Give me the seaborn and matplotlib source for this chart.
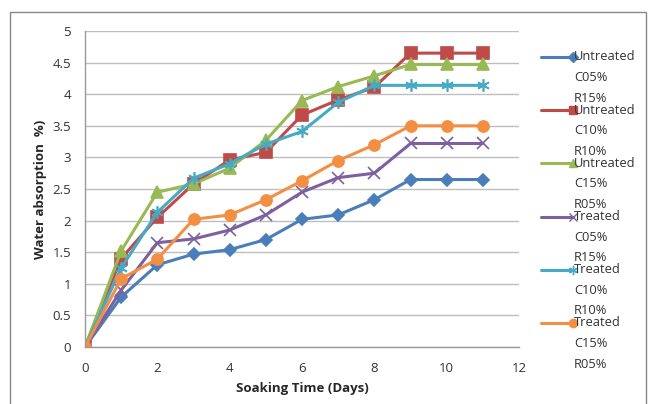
import matplotlib
matplotlib.use("Agg")
import matplotlib.pyplot as plt
import seaborn as sns
import pandas as pd
from matplotlib.lines import Line2D
from matplotlib.patches import Rectangle

days = [0, 1, 2, 3, 4, 5, 6, 7, 8, 9, 10, 11]
untreated_c05_r15 = [0, 0.79, 1.30, 1.47, 1.54, 1.70, 2.02, 2.09, 2.33, 2.65, 2.65, 2.65]
untreated_c10_r10 = [0, 1.40, 2.05, 2.58, 2.96, 3.08, 3.67, 3.91, 4.11, 4.65, 4.65, 4.65]
untreated_c15_r05 = [0, 1.52, 2.45, 2.58, 2.83, 3.27, 3.90, 4.12, 4.29, 4.47, 4.47, 4.47]
treated_c05_r15 = [0, 0.90, 1.65, 1.71, 1.85, 2.09, 2.45, 2.68, 2.75, 3.22, 3.22, 3.22]
treated_c10_r10 = [0, 1.25, 2.13, 2.67, 2.90, 3.21, 3.41, 3.87, 4.14, 4.14, 4.14, 4.14]
treated_c15_r05 = [0, 1.08, 1.39, 2.02, 2.09, 2.33, 2.63, 2.95, 3.20, 3.50, 3.50, 3.50]

labels = ["Untreated\nC05%\nR15%", "Untreated\nC10%\nR10%", "Untreated\nC15%\nR05%",
          "Treated\nC05%\nR15%", "Treated\nC10%\nR10%", "Treated\nC15%\nR05%"]
series = [untreated_c05_r15, untreated_c10_r10, untreated_c15_r05,
          treated_c05_r15, treated_c10_r10, treated_c15_r05]
colors = ["#4A7EBB", "#BE4B48", "#98B954", "#7D60A0", "#46AAC5", "#F38F42"]
markers = ["D", "s", "^", "x", (6, 2, 0), "o"]
msizes = [6.5, 8, 8, 8, 9, 8]

sns.set_style("white")
plt.rcParams['font.family'] = ['Open Sans', 'DejaVu Sans']

fig = plt.figure(figsize=(6.49, 4.04), dpi=100)
fig.patches.append(Rectangle((10/649, -0.05), 636/649, 1 - 12/404 + 0.05, transform=fig.transFigure,
                             fill=False, edgecolor="#888888", linewidth=1.0))
ax = fig.add_axes([85/649, 57/404, 434/649, 316/404])

for vals, lab, c, m, ms in zip(series, labels, colors, markers, msizes):
    df = pd.DataFrame({"day": days, "val": vals})
    sns.lineplot(data=df, x="day", y="val", ax=ax, color=c, linewidth=2.2,
                 marker=m, markersize=ms, markeredgecolor=c, markeredgewidth=1.2,
                 legend=False)

ax.set_xlim(0, 12)
ax.set_ylim(0, 5)
ax.set_xticks(range(0, 13, 2))
ax.set_yticks([i * 0.5 for i in range(11)])
ax.set_yticklabels(["0", "0.5", "1", "1.5", "2", "2.5", "3", "3.5", "4", "4.5", "5"])
ax.yaxis.grid(True, color="#BEBEBE", linewidth=1.0)
ax.set_axisbelow(True)
for s in ["top", "right"]:
    ax.spines[s].set_visible(False)
for s in ["left", "bottom"]:
    ax.spines[s].set_color("#999999")
    ax.spines[s].set_linewidth(1.0)
ax.tick_params(axis="y", labelsize=9.5, colors="#333333", length=0, pad=10)
ax.tick_params(axis="x", labelsize=9.5, colors="#333333", length=0, pad=11)
ax.set_xlabel("Soaking Time (Days)", fontsize=9.5, fontweight="bold", labelpad=5)
ax.set_ylabel("Water absorption  %)", fontsize=9.5, fontweight="bold", labelpad=4)

# legend (Excel style, handle aligned with the first line)
for i, (lab, c, m, ms) in enumerate(zip(labels, colors, markers, msizes)):
    ytop = 57 + i * 53.2
    yf = 1 - ytop / 404
    fig.add_artist(Line2D([541/649, 573/649], [yf, yf], transform=fig.transFigure,
                          color=c, linewidth=2.2, marker=m, markersize=ms * 0.75,
                          markevery=[1], markeredgecolor=c))
    l1, l2, l3 = lab.split("\n")
    for j, t in enumerate([l1, l2, l3]):
        fig.text(574/649, 1 - (ytop + j * 20.5) / 404, t, fontsize=9.3, color="#333333",
                 va="center", ha="left")

fig.savefig("out.png", dpi=100)
